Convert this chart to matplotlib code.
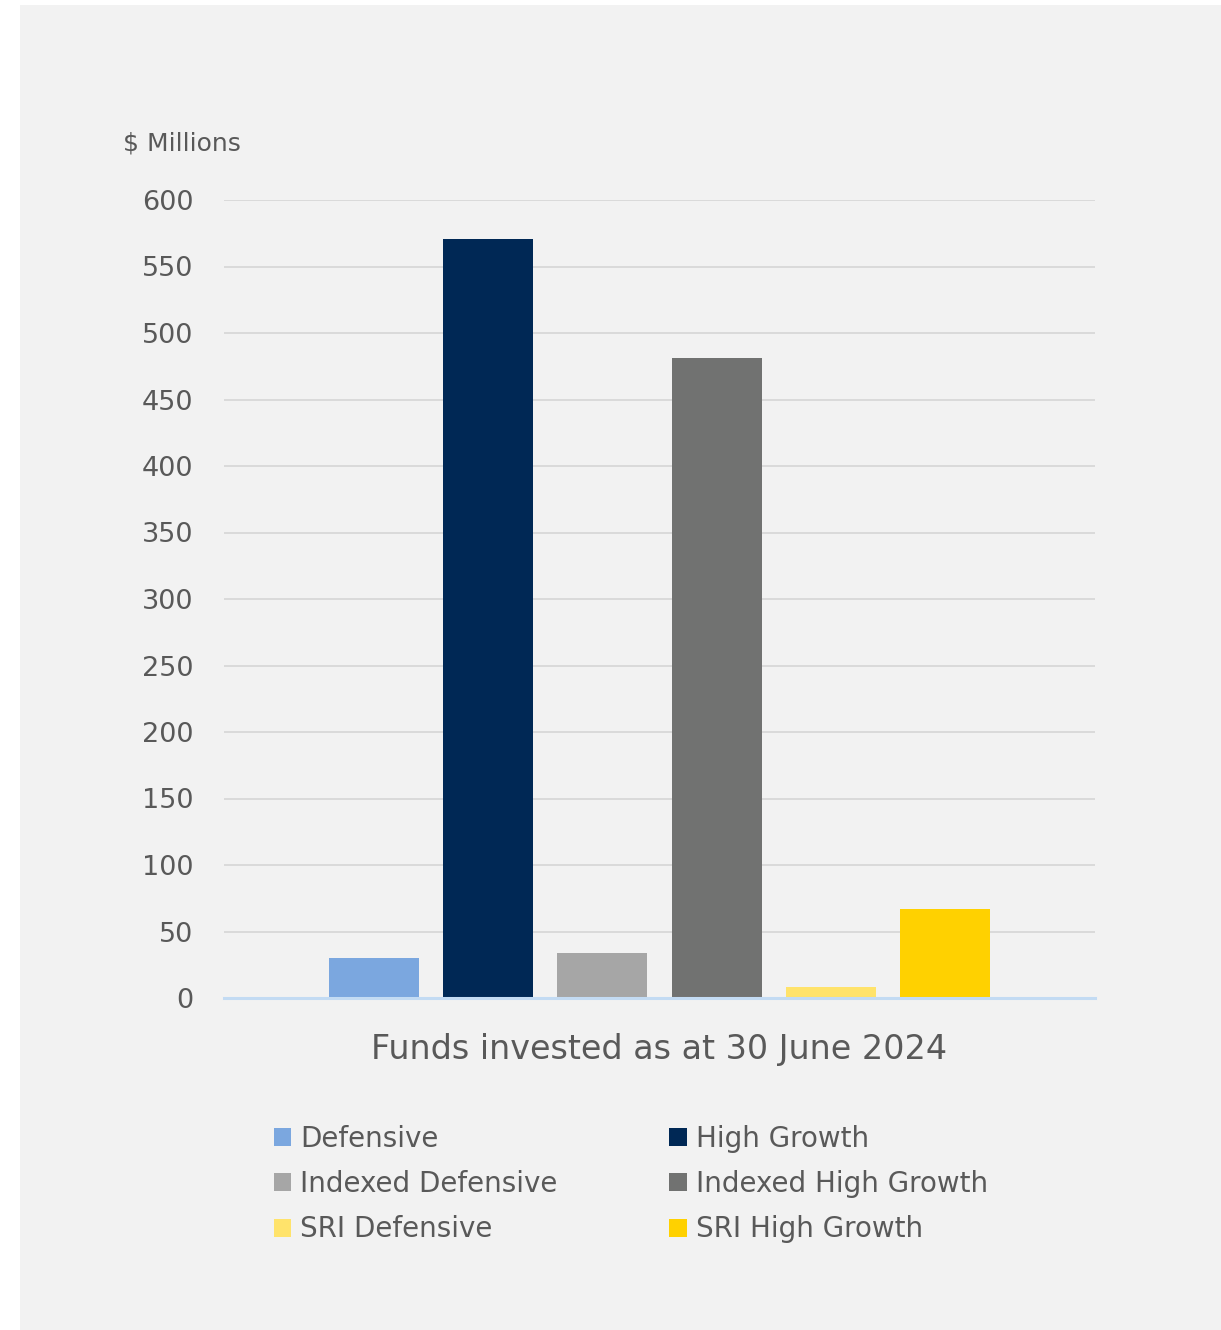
import matplotlib.pyplot as plt
from matplotlib.patches import Rectangle, Patch

# data
funds = ["Defensive", "High Growth", "Indexed Defensive", "Indexed High Growth",
         "SRI Defensive", "SRI High Growth"]
values = [30, 571, 34, 481, 8, 67]
colors = ["#7ba7df", "#002855", "#a6a6a6", "#717271", "#ffe36b", "#ffd100"]
yticks = [0, 50, 100, 150, 200, 250, 300, 350, 400, 450, 500, 550, 600]

txt = "#595959"
plt.rcParams["font.family"] = ["DejaVu Sans"]

W, H = 1221, 1330
fig = plt.figure(figsize=(W / 100, H / 100), dpi=100)
fig.patch.set_facecolor("white")
fig.add_artist(Rectangle((20 / W, 0), 1 - 20 / W, 1 - 5 / H, transform=fig.transFigure,
                         facecolor="#f2f2f2", edgecolor="none", zorder=0))

# axes box in pixels: x 224..1095, y 200..998 (top-down)
ax = fig.add_axes([224 / W, 1 - 998 / H, (1095 - 224) / W, (998 - 200) / H])
ax.set_facecolor("none")

xs = list(range(len(funds)))
ax.bar(xs, values, width=90 / 114, color=colors, zorder=3)

ax.set_xlim(-150 / 114, 5 + 150 / 114)
ax.set_ylim(0, 600)
ax.set_yticks(yticks)
ax.set_xticks([])
ax.tick_params(axis="y", length=0, pad=22, labelsize=19.5, labelcolor=txt)
ax.grid(axis="y", color="#dadada", linewidth=1.4, zorder=0)
for s in ["top", "right", "left"]:
    ax.spines[s].set_visible(False)
ax.spines["bottom"].set_color("#c3dbf3")
ax.spines["bottom"].set_linewidth(2.2)
ax.spines["bottom"].set_zorder(4)

fig.text(182 / W, 1 - 143 / H, "$ Millions", ha="center", va="center",
         fontsize=18, color=txt)
fig.text(659 / W, 1 - 1050 / H, "Funds invested as at 30 June 2024", ha="center",
         va="center", fontsize=24, color=txt)

order = [0, 2, 4, 1, 3, 5]
handles = [Patch(facecolor=colors[i], edgecolor="none") for i in order]
labels = [funds[i] for i in order]
leg = fig.legend(handles, labels, ncol=2, loc="upper left",
                 bbox_to_anchor=(249 / W, 1 - 1100 / H), frameon=False,
                 fontsize=20, labelcolor=txt, handlelength=0.62, handleheight=0.62,
                 handletextpad=0.32, labelspacing=0.62, columnspacing=4.03)

fig.savefig("out.png", dpi=100)
